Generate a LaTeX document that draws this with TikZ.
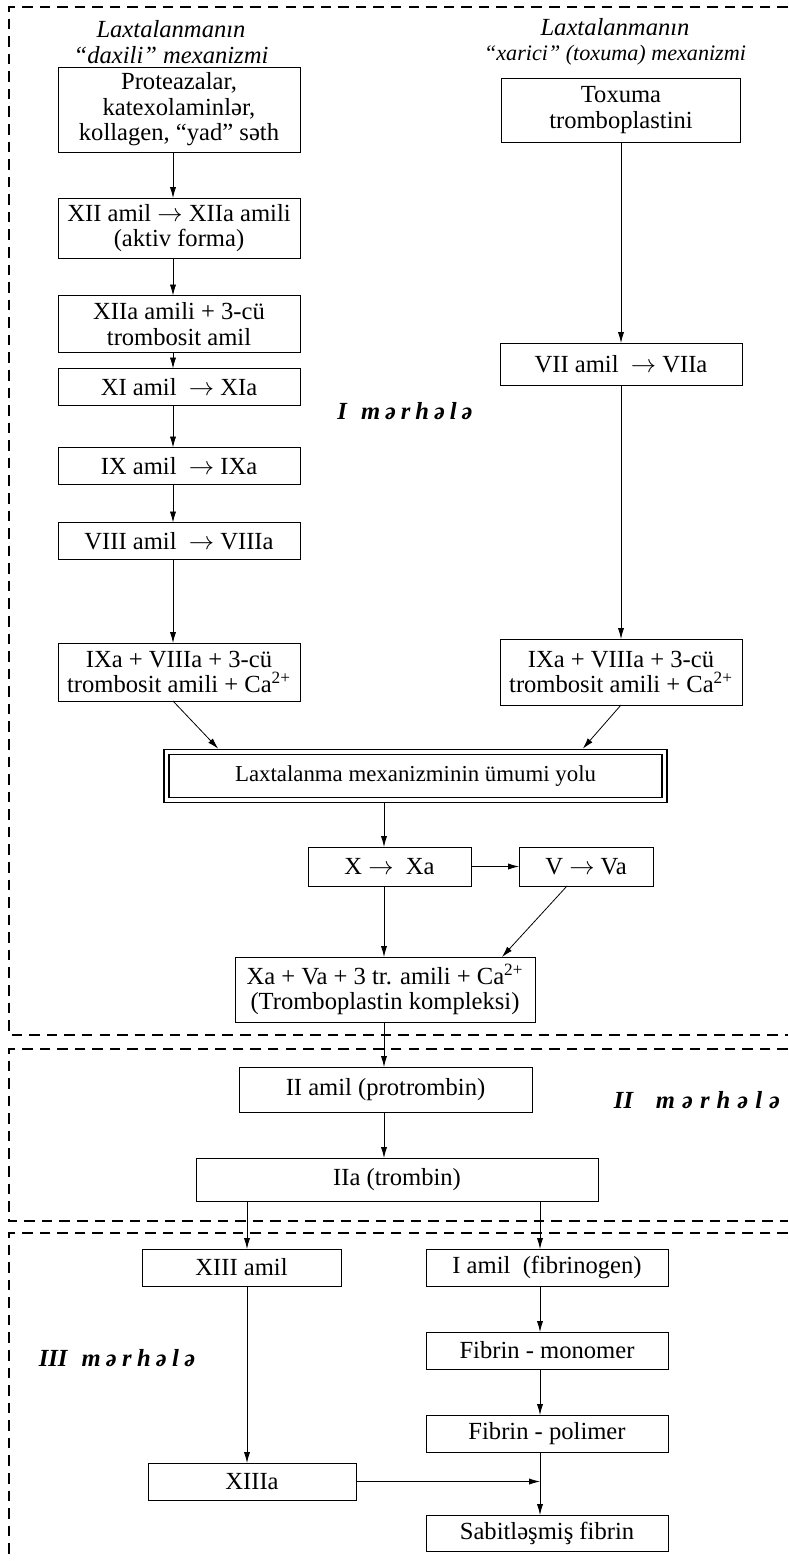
\documentclass[tikz,border=0pt]{standalone}
\usepackage{fontspec}
\setmainfont{Liberation Serif}
\usepackage{tikz}
\tikzset{
  every node/.style = {
    inner sep = 0pt,
    outer sep = 0pt
  }
}
\usetikzlibrary{
arrows.meta
}

\begin{document}
\begin{tikzpicture}[
      x = 0.02cm,
      y = -0.02cm,
      box/.style={
        draw,
        line width = 0.5pt,
        align = center,
        font = \fontsize{14}{14.5}\selectfont,
      },
      title/.style={
        align = center,
        font = \fontsize{14}{14.5}\selectfont\itshape,
      },
      stage/.style={
        font = \fontsize{14}{16}\selectfont\bfseries\itshape,
      },
      flow/.style={
        line width = 0.45pt,
        -{Latex[length=2.2mm,width=1.25mm]},
      },
      stageframe/.style={
        line width = 1.1pt,
        dash pattern = on 6pt off 4pt,
      },
      ]
      \useasboundingbox (0,0) rectangle (788,1561);
      \draw [stageframe] (788,7) -- (9,7) -- (9,1035) -- (788,1035);
      \draw [stageframe] (788,1049) -- (9,1049) -- (9,1221) -- (788,1221);
      \draw [stageframe] (788,1233) -- (9,1233) -- (9,1561);

      \coordinate (line-left) at (173,0);
      \coordinate (line-mid) at (384,0);
      \coordinate (line-xiii) at (247,0);
      \coordinate (line-right) at (540,0);

      \node [title] (node-title-daxili) at (171,42)
      {Laxtalanmanın\\ “daxili” mexanizmi};
      \node [title] (node-title-xarici) at (615,42)
      {Laxtalanmanın\\ {\fontsize{12.6}{14.5}\selectfont “xarici” (toxuma) mexanizmi}};

      \node [box, minimum width=4.84cm, minimum height=1.7cm] (node-daxili) at (179,109.5)
      {Proteazalar,\\ katexolaminlər,\\ kollagen, “yad” səth};
      \node [box, minimum width=4.84cm, minimum height=1.2cm] (node-xii) at (179,228)
      {XII amil $\rightarrow$ XIIa amili\\ (aktiv forma)};
      \node [box, minimum width=4.84cm, minimum height=1.14cm] (node-xiia) at (179,324)
      {XIIa amili + 3-cü\\ trombosit amil};
      \node [box, minimum width=4.84cm, minimum height=0.74cm] (node-xi) at (179,387)
      {XI amil~ $\rightarrow$ XIa};
      \node [box, minimum width=4.84cm, minimum height=0.74cm] (node-ix) at (179,466)
      {IX amil~ $\rightarrow$ IXa};
      \node [box, minimum width=4.84cm, minimum height=0.74cm] (node-viii) at (179,541)
      {VIII amil~ $\rightarrow$ VIIIa};
      \node [box, minimum width=4.84cm, minimum height=1.16cm] (node-ixa-left) at (179,672)
      {IXa + VIIIa + 3-cü\\ trombosit amili + Ca\textsuperscript{2+}};

      \node [box, minimum width=4.78cm, minimum height=1.28cm] (node-toxuma) at (621,110)
      {Toxuma\\ tromboplastini};
      \node [box, minimum width=4.84cm, minimum height=0.84cm] (node-vii) at (621,364)
      {VII amil~ $\rightarrow$ VIIa};
      \node [box, minimum width=4.84cm, minimum height=1.32cm] (node-ixa-right) at (621,672)
      {IXa + VIIIa + 3-cü\\ trombosit amili + Ca\textsuperscript{2+}};

      \node [stage] (node-stage-i) at (405,411)
      {I\hspace{8pt}m\hspace{2.8pt}ə\hspace{2.8pt}r\hspace{2.8pt}h\hspace{2.8pt}ə\hspace{2.8pt}l\hspace{2.8pt}ə};

      \node [box, double, line width=0.9pt, double distance=2pt, outer sep=1.9pt,
      minimum width=9.96cm, minimum height=0.96cm,
      font=\fontsize{13}{14}\selectfont] (node-umumi) at (415.5,776)
      {Laxtalanma mexanizminin ümumi yolu};

      \node [box, minimum width=3.26cm, minimum height=0.78cm] (node-x) at (389.5,866.5)
      {X $\rightarrow$~ Xa};
      \node [box, minimum width=2.68cm, minimum height=0.78cm] (node-v) at (586,866.5)
      {V $\rightarrow$ Va};
      \node [box, minimum width=6.0cm, minimum height=1.3cm] (node-komplex) at (385,989.5)
      {Xa + Va + 3 tr. amili + Ca\textsuperscript{2+}\\ (Tromboplastin kompleksi)};

      \node [box, minimum width=5.86cm, minimum height=0.9cm] (node-ii) at (385.5,1089.5)
      {II amil (protrombin)};
      \node [box, minimum width=8.04cm, minimum height=0.86cm] (node-iia) at (397,1179.5)
      {IIa (trombin)};
      \node [stage] (node-stage-ii) at (697,1100)
      {II\hspace{13pt}m\hspace{4pt}ə\hspace{4pt}r\hspace{4pt}h\hspace{4pt}ə\hspace{4pt}l\hspace{4pt}ə};

      \node [box, minimum width=3.98cm, minimum height=0.74cm] (node-xiii) at (241.5,1267.5)
      {XIII amil};
      \node [box, minimum width=4.84cm, minimum height=0.74cm] (node-i) at (547,1267.5)
      {I amil~ (fibrinogen)};
      \node [box, minimum width=4.84cm, minimum height=0.74cm] (node-monomer) at (547,1350.5)
      {Fibrin - monomer};
      \node [box, minimum width=4.84cm, minimum height=0.74cm] (node-polimer) at (547,1433.5)
      {Fibrin - polimer};
      \node [box, minimum width=4.16cm, minimum height=0.74cm] (node-xiiia) at (252,1481.5)
      {XIIIa};
      \node [box, minimum width=4.84cm, minimum height=0.72cm] (node-sabit) at (547,1533)
      {Sabitləşmiş fibrin};
      \node [stage] (node-stage-iii) at (117,1358)
      {III\hspace{8pt}m\hspace{3pt}ə\hspace{3pt}r\hspace{3pt}h\hspace{3pt}ə\hspace{3pt}l\hspace{3pt}ə};

      \draw [flow] (node-daxili.south -| line-left) -- (node-xii.north -| line-left);
      \draw [flow] (node-xii.south -| line-left) -- (node-xiia.north -| line-left);
      \draw [flow] (node-xiia.south -| line-left) -- (node-xi.north -| line-left);
      \draw [flow] (node-xi.south -| line-left) -- (node-ix.north -| line-left);
      \draw [flow] (node-ix.south -| line-left) -- (node-viii.north -| line-left);
      \draw [flow] (node-viii.south -| line-left) -- (node-ixa-left.north -| line-left);
      \draw [flow] (node-toxuma.south) -- (node-vii.north);
      \draw [flow] (node-vii.south) -- (node-ixa-right.north);
      \draw [flow] (node-ixa-left.south -| line-left) -- ([xshift=1.1cm]node-umumi.north west);
      \draw [flow] (node-ixa-right.south) -- ([xshift=-1.7cm]node-umumi.north east);
      \draw [flow] (node-umumi.south -| line-mid) -- (node-x.north -| line-mid);
      \draw [flow] (node-x.east) -- (node-v.west);
      \draw [flow] (node-x.south -| line-mid) -- (node-komplex.north -| line-mid);
      \draw [flow] ([xshift=-0.38cm]node-v.south) -- ([xshift=2.34cm]node-komplex.north);
      \draw [flow] (node-komplex.south -| line-mid) -- (node-ii.north -| line-mid);
      \draw [flow] (node-ii.south -| line-mid) -- (node-iia.north -| line-mid);
      \draw [flow] (node-iia.south -| line-xiii) -- (node-xiii.north -| line-xiii);
      \draw [flow] (node-iia.south -| line-right) -- (node-i.north -| line-right);
      \draw [flow] (node-i.south -| line-right) -- (node-monomer.north -| line-right);
      \draw [flow] (node-monomer.south -| line-right) -- (node-polimer.north -| line-right);
      \draw [flow] (node-polimer.south -| line-right) -- (node-sabit.north -| line-right);
      \draw [flow] (node-xiii.south -| line-xiii) -- (node-xiiia.north -| line-xiii);
      \draw [flow] (node-xiiia.east) -- (node-xiiia.east -| line-right);
    \end{tikzpicture}
\end{document}
